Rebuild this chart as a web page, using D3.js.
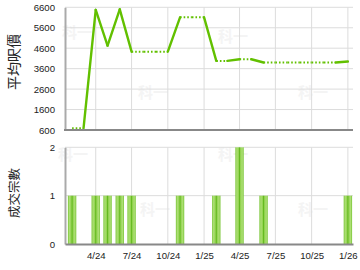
<!DOCTYPE html>
<html>
<head>
<meta charset="utf-8">
<script src="https://cdn.jsdelivr.net/npm/d3@7"></script>
<style>
  body { margin: 0; background: #fff; }
  svg { display: block; font-family: "Liberation Sans", Arial, sans-serif; }
</style>
</head>
<body>
<div id="wrapper"></div>
<script>
// 1. Data
const months = ["2024-02","2024-03","2024-04","2024-05","2024-06","2024-07","2024-08","2024-09",
                "2024-10","2024-11","2024-12","2025-01","2025-02","2025-03","2025-04","2025-05",
                "2025-06","2025-07","2025-08","2025-09","2025-10","2025-11","2025-12","2026-01"]
// average price per sq ft as drawn (months without deals keep last value, drawn dotted)
const avgPrice = [680, 680, 6470, 4730, 6500, 4430, 4430, 4430,
                  4430, 6110, 6110, 6110, 3980, 3980, 4060, 4060,
                  3900, 3900, 3900, 3900, 3900, 3900, 3900, 3950]
const dealCount = [1, 0, 1, 1, 1, 1, 0, 0,
                   0, 1, 0, 0, 1, 0, 2, 0,
                   1, 0, 0, 0, 0, 0, 0, 1]
const priceTicks = [600, 1600, 2600, 3600, 4600, 5600, 6600]
const countTicks = [0, 1, 2]
const xTickDates = ["2024-04","2024-07","2024-10","2025-01","2025-04","2025-07","2025-10","2026-01"]

const parseMonth = d3.timeParse("%Y-%m")
const dataset = months.map((m, i) => ({
  date: parseMonth(m), price: avgPrice[i], count: dealCount[i]
}))

// 2. Dimensions
const width = 360, height = 270
const left = 65, right = 353
const top1 = 7.3, bottom1 = 130
const top2 = 147.3, bottom2 = 244

const svg = d3.select("#wrapper").append("svg")
  .attr("width", width).attr("height", height)

const defs = svg.append("defs")
const grad = defs.append("linearGradient").attr("id", "barGrad")
  .attr("x1", "0%").attr("x2", "100%").attr("y1", "0%").attr("y2", "0%")
;[[0, "#78c534"], [0.18, "#addf76"], [0.38, "#94d452"], [0.5, "#62b81e"], [0.62, "#94d452"], [0.82, "#addf76"], [1, "#78c534"]]
  .forEach(s => grad.append("stop").attr("offset", s[0]).attr("stop-color", s[1]))

// 3. Scales
const xScale = d3.scaleTime()
  .domain([new Date(2024, 0, 14), new Date(2026, 0, 14)])
  .range([left, right])
const yPrice = d3.scaleLinear().domain([600, 6600]).range([bottom1, top1])
const yCount = d3.scaleLinear().domain([0, 2]).range([bottom2, top2])
const xTicks = xTickDates.map(parseMonth)
const fmt = d3.timeFormat("%-m/%y")

// watermark
const wm = [[62, 38], [138, 98], [218, 42], [298, 98], [58, 160], [140, 215], [218, 160], [298, 215]]
svg.append("g").selectAll("text").data(wm).enter().append("text")
  .attr("x", d => d[0]).attr("y", d => d[1])
  .text("科一")
  .style("font-family", "'Noto Sans CJK TC', sans-serif")
  .style("font-size", "15px").style("font-weight", "bold")
  .style("fill", "#f4f4f4")

// 4. Gridlines
const grid = svg.append("g").attr("stroke", "#dcdcdc").attr("stroke-width", 1)
grid.selectAll(".vg1").data(xTicks).enter().append("line")
  .attr("x1", d => xScale(d)).attr("x2", d => xScale(d))
  .attr("y1", top1).attr("y2", bottom1)
grid.selectAll(".hg1").data(priceTicks.slice(1)).enter().append("line")
  .attr("x1", left).attr("x2", right)
  .attr("y1", d => yPrice(d)).attr("y2", d => yPrice(d))
grid.selectAll(".vg2").data(xTicks).enter().append("line")
  .attr("x1", d => xScale(d)).attr("x2", d => xScale(d))
  .attr("y1", top2).attr("y2", bottom2)
grid.selectAll(".hg2").data(countTicks.slice(1)).enter().append("line")
  .attr("x1", left).attr("x2", right)
  .attr("y1", d => yCount(d)).attr("y2", d => yCount(d))

// 5. Bars
svg.append("g").selectAll("rect").data(dataset.filter(d => d.count > 0)).enter().append("rect")
  .attr("x", d => xScale(d.date) - 4.2)
  .attr("width", 8.4)
  .attr("y", d => yCount(d.count))
  .attr("height", d => bottom2 - yCount(d.count))
  .attr("fill", "url(#barGrad)")

// 6. Line: solid into months with deals, dotted otherwise
const lineG = svg.append("g").attr("fill", "none").attr("stroke", "#62c000")
for (let i = 1; i < dataset.length; i++) {
  const a = dataset[i - 1], b = dataset[i]
  const seg = lineG.append("line")
    .attr("x1", xScale(a.date)).attr("y1", yPrice(a.price))
    .attr("x2", xScale(b.date)).attr("y2", yPrice(b.price))
  if (b.count > 0) {
    seg.attr("stroke-width", 2.4).attr("stroke-linecap", "round")
  } else {
    seg.attr("stroke-width", 2).attr("stroke-dasharray", "1.6 2")
  }
}

// 7. Axes
const axisTop = d3.axisLeft(yPrice).tickValues(priceTicks).tickSize(0)
  .tickFormat(d3.format("d")).tickPadding(10)
const ay1 = svg.append("g").attr("transform", `translate(${left},0)`).call(axisTop)
const axisBot = d3.axisLeft(yCount).tickValues(countTicks).tickSize(0).tickFormat(d3.format("d")).tickPadding(10)
const ay2 = svg.append("g").attr("transform", `translate(${left},0)`).call(axisBot)
;[ay1, ay2].forEach(g => {
  g.select(".domain").attr("stroke", "#aaa").attr("stroke-width", 2)
  g.selectAll("text").style("font-size", "9.6px").style("fill", "#222")
})

const xAxisGen = d3.axisBottom(xScale).tickValues(xTicks).tickFormat(fmt).tickSize(0).tickPadding(8)
const ax2 = svg.append("g").attr("transform", `translate(0,${bottom2})`).call(xAxisGen)
ax2.select(".domain").attr("stroke", "#888").attr("stroke-width", 2)
ax2.selectAll("text").style("font-size", "9.6px").style("fill", "#222")

svg.append("line").attr("x1", left - 1).attr("x2", right)
  .attr("y1", bottom1).attr("y2", bottom1)
  .attr("stroke", "#888").attr("stroke-width", 2)

// 8. Titles
svg.append("text")
  .attr("transform", `translate(19,62) rotate(-90)`)
  .attr("text-anchor", "middle")
  .style("font-family", "'Noto Sans CJK TC', sans-serif")
  .style("font-size", "14px").style("fill", "#222")
  .text("平均呎價")
svg.append("text")
  .attr("transform", `translate(18.5,193) rotate(-90)`)
  .attr("text-anchor", "middle")
  .style("font-family", "'Noto Sans CJK TC', sans-serif")
  .style("font-size", "12.5px").style("fill", "#222")
  .text("成交宗數")
</script>
</body>
</html>
